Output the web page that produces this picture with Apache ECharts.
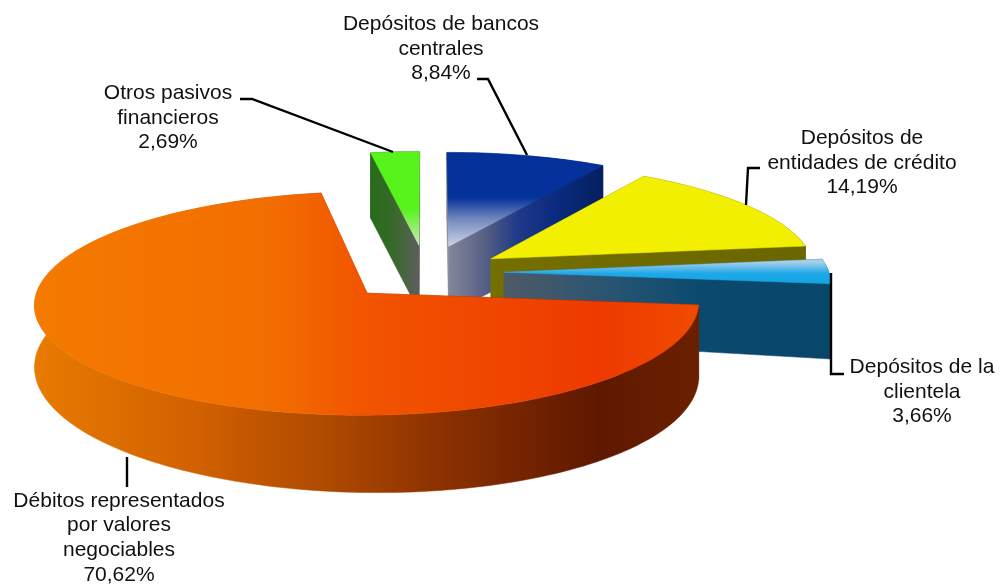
<!DOCTYPE html>
<html><head><meta charset="utf-8">
<style>html,body{margin:0;padding:0;background:#fff}#c{width:1000px;height:588px}</style>
<script src="https://cdn.jsdelivr.net/npm/echarts@6/dist/echarts.min.js"></script>
</head><body><div id="c"></div>
<script>
// Data (listed back-to-front; green slice first, it ends at 12 o'clock)
const categories = ['Otros pasivos\nfinancieros','Depósitos de bancos\ncentrales','Depósitos de\nentidades de crédito','Depósitos de la\nclientela','Débitos representados\npor valores\nnegociables'];
const values = [2.69, 8.84, 14.19, 3.66, 70.62];

// Projection of the exploded disc
const CX = 426, CY = 272.5, RX = 325, RY = 107, PERSP = 0.091;
const explode = [0.26, 0.26, 0.24, 0.24, 0.26];
function depth(u, v){ return 66.5 + 6.5*Math.max(-1.2,Math.min(1.2,u)) + 10*Math.max(v,0); }
function proj(u, v){ const s = 1/(1-PERSP*v); return [CX+RX*u*s, CY+RY*v*s]; }
function drop(p, u, v){ return [p[0], p[1]+depth(u,v)]; }

function grad(x, y, x2, y2, stops){
  return {type:'linear', global:true, x:x, y:y, x2:x2, y2:y2,
    colorStops: stops.map(s=>({offset:s[0], color:s[1]}))};
}
const looks = [
 { top:grad(0,152,0,247,[[0,'#58f21c'],[.6,'#58f21c'],[1,'#cfe9c2']]),
   wall:grad(368,0,418,0,[[0,'#256d18'],[.5,'#37692a'],[1,'#5c5f5a']]) },
 { top:grad(0,152,0,247,[[0,'#04309a'],[.48,'#05329a'],[.7,'#6f86bd'],[1,'#d2d6e8']]),
   wall:grad(446,0,604,0,[[0,'#878a9a'],[.25,'#565f84'],[.45,'#1f3a88'],[.7,'#0a2a80'],[1,'#05205e']]) },
 { top:'#f2f000', wall:grad(490,0,805,0,[[0,'#756f00'],[1,'#6a6600']]) },
 { top:grad(0,262,0,285,[[0,'#a8cfe8'],[.5,'#1ea8e8'],[1,'#12a4e2']]),
   wall:grad(508,0,830,0,[[0,'#4d5a68'],[.3,'#2a5572'],[.6,'#0a4a6e'],[1,'#08466a']]) },
 { top:grad(37,0,697,0,[[0,'#f47a00'],[.35,'#f26e00'],[.5,'#f25400'],[.85,'#ee3a00'],[1,'#f04a00']]),
   wall:grad(37,0,697,0,[[0,'#e87a00'],[.25,'#d06000'],[.45,'#ac4800'],[.62,'#8a3000'],[.85,'#5f1800'],[1,'#6a2000']]) }
];

const total = values.reduce((a,b)=>a+b,0);
function renderSlice(params, api){
  const i = params.dataIndex;
  const val = api.value(0);
  let before = -values[0];
  for (let j=0;j<i;j++) before += values[j];
  const a0 = before/total*2*Math.PI, a1 = (before+val)/total*2*Math.PI, mid=(a0+a1)/2;
  const cu = Math.sin(mid)*explode[i], cv = -Math.cos(mid)*explode[i];
  const n = Math.max(4, Math.ceil((a1-a0)*40));
  const rimTop=[], rimBot=[];
  for (let k=0;k<=n;k++){
    const a=a0+(a1-a0)*k/n, u=cu+Math.sin(a), v=cv-Math.cos(a), p=proj(u,v);
    rimTop.push(p); rimBot.push(drop(p,u,v));
  }
  const c = proj(cu,cv), cb = drop(c,cu,cv);
  const look = looks[i];
  const poly = (pts, fill, z)=>({type:'polygon', z2:i*10+z, shape:{points:pts}, style:{fill:fill, stroke:fill, lineWidth:.5}, silent:true});
  return {type:'group', children:[
    poly(rimTop.concat(rimBot.slice().reverse()), look.wall, 0),
    poly([c,rimTop[0],rimBot[0],cb], look.wall, 1),
    poly([c,rimTop[n],rimBot[n],cb], look.wall, 2),
    poly([c].concat(rimTop), look.top, 3)
  ]};
}

const fmt = v => v.toFixed(2).replace('.',',') + '%';
const labelCenters = [[168,118],[441,49],[862,163],[922,392],[119,538]];
const leaders = [
  [[240,99],[252,99],[393,152]],
  [[477,79],[488,79],[527,155]],
  [[760,168],[748,168],[746,205]],
  [[831,273],[831,374],[844,374]],
  [[127,457],[127,487]]
];
const graphics = [];
categories.forEach((name,i)=>{
  graphics.push({type:'text', x:labelCenters[i][0], y:labelCenters[i][1], z:10,
    style:{text:name+'\n'+fmt(values[i]), fill:'#111', font:'21px "Liberation Sans", Arial, sans-serif',
      align:'center', verticalAlign:'middle', lineHeight:24.6}});
  graphics.push({type:'polyline', z:9, shape:{points:leaders[i]},
    style:{stroke:'#000', lineWidth:2.4, fill:null, lineJoin:'miter'}});
});

const chart = echarts.init(document.getElementById('c'), null, {renderer:'canvas'});
chart.setOption({
  animation:false,
  backgroundColor:'#fff',
  series:[{type:'custom', coordinateSystem:'none', renderItem:renderSlice, silent:true,
    data:values.map((v,i)=>({name:categories[i], value:[v]}))}],
  graphic:graphics
});
</script></body></html>
